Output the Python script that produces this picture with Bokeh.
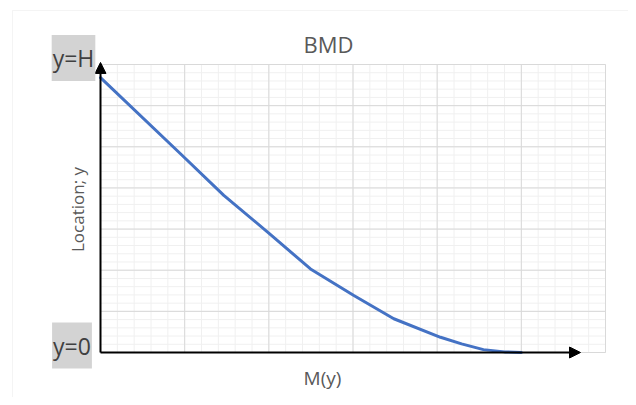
import math
import numpy as np
from bokeh.plotting import figure
from bokeh.models import Range1d, Label, Arrow, NormalHead, BoxAnnotation
from bokeh.embed import file_html
from bokeh.resources import INLINE

# Data (M on x, location y on y)
m_values = [0.0, 0.95, 1.465, 2.01, 2.495, 3.01, 3.485, 4.04, 4.29, 4.55, 4.80, 5.00]
y_values = [6.68, 4.83, 3.82, 2.885, 2.03, 1.385, 0.82, 0.37, 0.21, 0.07, 0.015, 0.0]

x_max = 6
y_max = 7
major_step = 1
minor_step = 0.2
title_text = "BMD"
x_label = "M(y)"
y_label = "Location; y"
top_label = "y=H"
bottom_label = "y=0"

FONT = "Open Sans"

# layout: canvas size and where the plot area sits in it (pixels)
W, H = 628, 397
area_left, area_right, area_top, area_bottom = 100, 605, 64, 352
sx = (area_right - area_left) / x_max
sy = (area_bottom - area_top) / y_max

p = figure(width=W, height=H, output_backend="svg", toolbar_location=None,
           x_range=Range1d(-area_left / sx, (W - area_left) / sx),
           y_range=Range1d(-(H - area_bottom) / sy, area_bottom / sy),
           x_axis_location=None, y_axis_location=None,
           min_border=0, outline_line_color=None,
           background_fill_color="white", border_fill_color="white")
p.xgrid.visible = False
p.ygrid.visible = False

# grid
minor_x = np.round(np.arange(0, x_max + 1e-9, minor_step), 6)
minor_y = np.round(np.arange(0, y_max + 1e-9, minor_step), 6)
major_x = np.arange(0, x_max + 1, major_step)
major_y = np.arange(0, y_max + 1, major_step)
p.segment(x0=minor_x, y0=0, x1=minor_x, y1=y_max, line_color="#f0f0f0", line_width=1)
p.segment(x0=0, y0=minor_y, x1=x_max, y1=minor_y, line_color="#f0f0f0", line_width=1)
p.segment(x0=major_x, y0=0, x1=major_x, y1=y_max, line_color="#d9d9d9", line_width=1)
p.segment(x0=0, y0=major_y, x1=x_max, y1=major_y, line_color="#d9d9d9", line_width=1)

# outer chart border
p.add_layout(BoxAnnotation(left=(12 - area_left) / sx, right=x_max + 3,
                           top=(area_bottom - 10) / sy, bottom=-5,
                           fill_alpha=0, line_color="#d9d9d9", line_width=1))

p.line(m_values, y_values, line_color="#4472C4", line_width=3, line_join="round", line_cap="round")

# axes with arrows
p.add_layout(Arrow(x_start=0, y_start=0, x_end=0, y_end=y_max + 0.05, line_color="black", line_width=2,
                   end=NormalHead(size=11, fill_color="black", line_color="black")))
p.add_layout(Arrow(x_start=0, y_start=0, x_end=(580 - area_left) / sx, y_end=0, line_color="black",
                   line_width=2, end=NormalHead(size=11, fill_color="black", line_color="black")))

def px(xp):
    return (xp - area_left) / sx

def py(yp):
    return (area_bottom - yp) / sy

p.add_layout(Label(x=px(328), y=py(43), text=title_text, text_font=FONT, text_font_size="22px",
                   text_color="#595959", text_align="center", text_baseline="middle"))
p.add_layout(Label(x=px(322), y=py(377), text=x_label, text_font=FONT, text_font_size="19px",
                   text_color="#595959", text_align="center", text_baseline="middle"))
p.add_layout(Label(x=px(77), y=py(209), text=y_label, text_font=FONT, text_font_size="17px",
                   text_color="#595959", text_align="center", text_baseline="middle", angle=math.pi / 2))
p.add_layout(Label(x=px(73), y=py(57.5), text=top_label, text_font=FONT, text_font_size="23px",
                   text_color="#404040", text_align="center", text_baseline="middle",
                   background_fill_color="#d3d3d3", padding=(1, 7)))
p.add_layout(Label(x=px(71.5), y=py(345), text=bottom_label, text_font=FONT, text_font_size="23px",
                   text_color="#404040", text_align="center", text_baseline="middle",
                   background_fill_color="#d3d3d3", padding=(1, 7)))

open("out.html", "w").write(file_html(p, INLINE))
